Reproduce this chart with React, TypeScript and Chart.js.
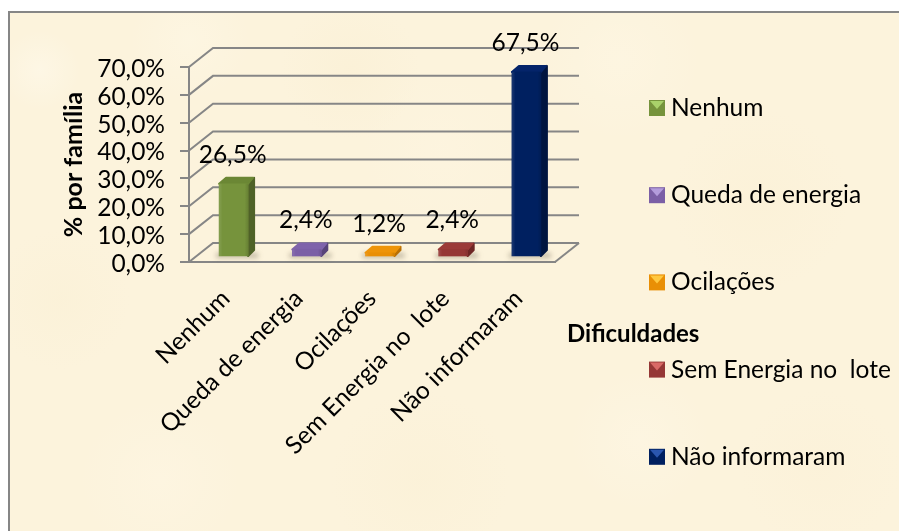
import React, { useEffect, useRef } from "react";
import { Chart, registerables } from "chart.js";

Chart.register(...registerables);

const categories = ["Nenhum", "Queda de energia", "Ocilações", "Sem Energia no  lote", "Não informaram"];
const values = [26.5, 2.4, 1.2, 2.4, 67.5];
const valueLabels = ["26,5%", "2,4%", "1,2%", "2,4%", "67,5%"];
const frontColors = ["#76933C", "#7B5FA6", "#E98F05", "#953735", "#002060"];
const topColors = ["#6B8735", "#7F63AB", "#EE9408", "#9B3A38", "#04246A"];
const sideColors = ["#4F6228", "#57437A", "#B87006", "#6E2725", "#001540"];
const legendLight = ["#A9D16A", "#B39CDC", "#FFC840", "#D96A66", "#2A56B0"];
const axisTitle = "% por família";
const legendTitle = "Dificuldades";
const FONT = "Lato, Carlito, Calibri, sans-serif";
const GRID = "#868686";
const SIZE = 24.5;
const blotches: [number, number, number, string][] = [
  [40, 70, 40, "rgba(255,252,242,0.4)"],
  [190, 40, 60, "rgba(255,250,235,0.35)"],
  [350, 70, 70, "rgba(248,236,205,0.3)"],
  [620, 60, 80, "rgba(255,250,235,0.3)"],
  [760, 200, 90, "rgba(250,238,208,0.3)"],
  [60, 300, 70, "rgba(249,238,208,0.3)"],
  [160, 480, 80, "rgba(255,248,232,0.35)"],
  [420, 480, 90, "rgba(249,237,206,0.25)"],
  [640, 440, 70, "rgba(255,250,236,0.3)"],
  [820, 470, 80, "rgba(250,238,210,0.25)"],
  [440, 150, 80, "rgba(254,247,228,0.3)"],
];

const scene = {
  id: "scene",
  beforeDraw(c: any) {
    const g = c.ctx;
    g.save();
    g.fillStyle = "#FFFFFF";
    g.fillRect(0, 0, c.width, c.height);
    g.fillStyle = "#FCF3DC";
    g.fillRect(8, 12, c.width, c.height);
    for (const [x, y, r, col] of blotches) {
      const grad = g.createRadialGradient(x, y, 0, x, y, r);
      grad.addColorStop(0, col);
      grad.addColorStop(1, col.replace(/[\d.]+\)$/, "0)"));
      g.fillStyle = grad;
      g.fillRect(Math.max(10, x - r), Math.max(14, y - r), 2 * r, 2 * r);
    }
    g.strokeStyle = GRID;
    g.lineWidth = 2;
    g.strokeRect(9, 12, c.width, c.height);
    g.restore();
  },
  beforeDatasetsDraw(c: any) {
    const g = c.ctx;
    const y = c.scales.y;
    const { left, right, bottom } = c.chartArea;
    const dx = 24;
    const dy = 19;
    g.save();
    g.strokeStyle = GRID;
    g.lineWidth = 2;
    for (const t of y.ticks) {
      const p = y.getPixelForValue(t.value);
      g.beginPath();
      g.moveTo(left, p);
      g.lineTo(left + dx, p - dy);
      g.lineTo(right + dx, p - dy);
      g.stroke();
    }
    g.beginPath();
    g.moveTo(right, bottom);
    g.lineTo(right + dx, bottom - dy);
    g.stroke();
    g.restore();
  },
  beforeDatasetDraw(c: any) {
    const g = c.ctx;
    const els = c.getDatasetMeta(0).data;
    g.save();
    g.translate(8, -6);
    const d = 7;
    els.forEach((el: any, i: number) => {
      const l = el.x - el.width / 2;
      const r = el.x + el.width / 2;
      const t = el.y;
      const b = el.base;
      g.save();
      g.fillStyle = "rgba(110,100,80,0.4)";
      g.filter = "blur(2.5px)";
      g.fillRect(l - 3, b - 3, el.width + d + 6, 5);
      g.restore();
      g.lineJoin = "round";
      g.lineWidth = 2;
      g.fillStyle = sideColors[i];
      g.strokeStyle = sideColors[i];
      g.beginPath();
      g.moveTo(r, t);
      g.lineTo(r + d - 1, t - d + 1);
      g.lineTo(r + d - 1, b - d + 1);
      g.lineTo(r, b);
      g.closePath();
      g.fill();
      g.stroke();
      g.fillStyle = topColors[i];
      g.strokeStyle = topColors[i];
      g.beginPath();
      g.moveTo(l, t);
      g.lineTo(l + d, t - d + 1);
      g.lineTo(r + d - 2, t - d + 1);
      g.lineTo(r, t);
      g.closePath();
      g.fill();
      g.stroke();
    });
  },
  afterDatasetDraw(c: any) {
    const g = c.ctx;
    const els = c.getDatasetMeta(0).data;
    els.forEach((el: any) => {
      const l = el.x - el.width / 2;
      const shade = g.createLinearGradient(l, 0, l + el.width, 0);
      shade.addColorStop(0, "rgba(255,255,255,0.10)");
      shade.addColorStop(0.12, "rgba(255,255,255,0)");
      shade.addColorStop(0.88, "rgba(0,0,0,0)");
      shade.addColorStop(1, "rgba(0,0,0,0.12)");
      g.fillStyle = shade;
      g.fillRect(l, el.y, el.width, el.base - el.y);
    });
    g.restore();

    g.save();
    g.fillStyle = "#000";
    g.font = `${SIZE}px ${FONT}`;
    g.textAlign = "center";
    g.textBaseline = "middle";
    els.forEach((el: any, i: number) => {
      g.fillText(valueLabels[i], el.x + 7, el.y - 35);
    });

    const sx = 649;
    const tx = 671;
    const rowTop = 108;
    const rowGap = 87.2;
    const s = 16;
    g.textAlign = "left";
    categories.forEach((name, i) => {
      const cy = rowTop + rowGap * i;
      const x0 = sx;
      const y0 = cy - s / 2;
      g.fillStyle = frontColors[i];
      g.fillRect(x0, y0, s, s);
      g.fillStyle = legendLight[i];
      g.beginPath();
      g.moveTo(x0 + 1, y0 + 1);
      g.lineTo(x0 + s - 1, y0 + 1);
      g.lineTo(x0 + s / 2, y0 + s / 2 + 1);
      g.closePath();
      g.fill();
      g.fillStyle = "#000";
      g.fillText(name, tx, cy);
    });
    g.font = `bold ${SIZE - 0.5}px ${FONT}`;
    g.fillText(legendTitle, 567, 334);
    g.restore();
  },
};

export default function App() {
  const ref = useRef<HTMLCanvasElement>(null);
  useEffect(() => {
    document.body.style.margin = "0";
    const chart = new Chart(ref.current!, {
      type: "bar",
      data: {
        labels: categories,
        datasets: [
          {
            data: values,
            backgroundColor: frontColors,
            barThickness: 29,
            yAxisID: "barDepth",
            clip: false,
          } as any,
        ],
      },
      plugins: [scene],
      options: {
        responsive: false,
        animation: false,
        layout: { padding: { left: 0, top: 67, right: 344, bottom: 0 } },
        plugins: { legend: { display: false }, tooltip: { enabled: false }, title: { display: false } },
        scales: {
          x: {
            afterFit: (s: any) => {
              s.height = 269;
            },
            grid: { display: false },
            border: { color: GRID, width: 2 },
            ticks: {
              color: "#000",
              font: { family: FONT, size: SIZE },
              minRotation: 45,
              maxRotation: 45,
              labelOffset: 0,
              padding: 14,
              autoSkip: false,
            },
          },
          y: {
            min: 0,
            max: 70,
            afterFit: (s: any) => {
              s.width = 189;
            },
            grid: { drawOnChartArea: false, drawTicks: true, tickLength: 9, color: GRID, lineWidth: 2 },
            border: { color: GRID, width: 2 },
            ticks: {
              stepSize: 10,
              autoSkip: false,
              color: "#000",
              padding: 15,
              labelOffset: 2,
              font: { family: FONT, size: SIZE },
              callback: (v: any) => `${Number(v).toFixed(1).replace(".", ",")}%`,
            },
            title: {
              display: true,
              text: axisTitle,
              color: "#000",
              font: { family: FONT, size: SIZE + 0.5, weight: "bold" },
              padding: { top: 59, bottom: 0 },
            },
          },
          barDepth: { display: false, min: 0, max: 71.5, position: "left" },
        },
      } as any,
    });
    return () => chart.destroy();
  }, []);
  return <canvas ref={ref} width={899} height={531} style={{ display: "block" }} />;
}
